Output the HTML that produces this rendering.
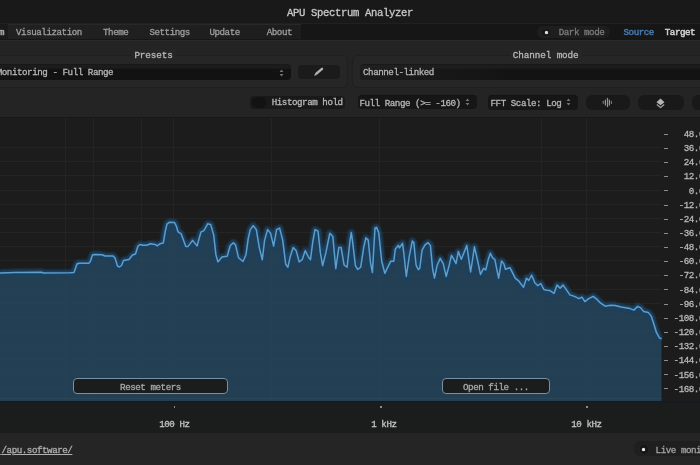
<!DOCTYPE html>
<html><head><meta charset="utf-8"><style>
*{margin:0;padding:0;box-sizing:border-box}
html,body{width:700px;height:465px;overflow:hidden;background:#1c1c1c}
body{position:relative;-webkit-text-stroke:0.3px currentColor;font-family:"Liberation Mono","DejaVu Sans Mono",monospace;font-size:9.2px;letter-spacing:-0.45px;color:#b6b6b6}
.a{position:absolute;white-space:nowrap}
.t{position:absolute;white-space:nowrap;line-height:10px;letter-spacing:-0.45px}
#title{left:0;top:0;width:700px;height:23px;background:#191919}
#menu{left:0;top:23px;width:700px;height:17px;background:#161616;border-top:1px solid #202020}
#panel{left:0;top:40px;width:700px;height:77px;background:#242424;border-top:1px solid #2a2a2a}
.fs{position:absolute;border:1px solid #1f1f1f;border-radius:5px;background:#262626}
.lg{position:absolute;font-size:9.3px;line-height:11px;color:#b8b8b8;letter-spacing:-0.1px}
.sel{position:absolute;background:linear-gradient(#1c1c1c 0,#1c1c1c 3px,#121212 4.5px);border-top:1px solid #181818;border-radius:4px}
.btn{position:absolute;background:#1b1b1b;border-radius:4px}
#chart{left:0;top:117px;width:700px;height:283px;background:#1c1c1c;border-top:1px solid #181818}
#xaxis{left:0;top:401px;width:700px;height:32px;background:#1b1c1c;border-top:2px solid #161b20}
#footer{left:0;top:433px;width:700px;height:32px;background:#252525}
.yt{position:absolute;left:664px;width:4px;height:1px;background:#8c8c8c}
.yl{position:absolute;right:-4px;width:40px;text-align:right;line-height:10px;color:#b8b8b8;padding-top:0.8px}
.xl{position:absolute;top:419px;line-height:11px;color:#c4c4c4}
.xt{position:absolute;top:405.5px;width:1.2px;height:2px;background:#8c8c8c}
.ov{position:absolute;height:16.6px;border:1px solid #7890a2;border-radius:4px;background:#1a1c1e;text-align:center;line-height:16px;padding-top:1.2px;color:#a8a8a8}
</style></head><body>
<div class="a" id="title"><div class="t" style="left:287px;top:6.5px;font-size:10.6px;line-height:12px;letter-spacing:-0.36px;color:#c8c8c8">APU Spectrum Analyzer</div></div>
<div class="a" id="menu">
  <div class="a" style="left:8px;top:0;width:293px;height:15px;background:linear-gradient(90deg,#212121 0,#1f1f1f 60%,#1d1d1d 100%);border-top:1px solid #282828"></div>
  <div class="a" style="left:0;top:0;width:8px;height:15px;background:#1a1a1a"></div>
  <div class="t" style="left:-1px;top:4px;color:#bbb">m</div>
  <div class="t" style="left:16px;top:4px;color:#9e9e9e">Visualization</div>
  <div class="t" style="left:103px;top:4px;color:#9e9e9e">Theme</div>
  <div class="t" style="left:149.4px;top:4px;color:#9e9e9e">Settings</div>
  <div class="t" style="left:209.4px;top:4px;color:#9e9e9e">Update</div>
  <div class="t" style="left:266.7px;top:4px;color:#9e9e9e">About</div>
  <div class="a" style="left:537px;top:2px;width:73px;height:12px;background:#1e1e1e;border-radius:6px"></div>
  <div class="a" style="left:541px;top:3.5px;width:10px;height:9.5px;border-radius:50%;background:#141414;border:1px solid #232323"></div>
  <div class="a" style="left:544.6px;top:6.6px;width:3px;height:3px;border-radius:50%;background:#e0e0e0;box-shadow:0 0 1px #fff"></div>
  <div class="t" style="left:558.7px;top:4px;color:#7c7c7c">Dark mode</div>
  <div class="t" style="left:623.5px;top:4px;color:#4679ad;-webkit-text-stroke:0.45px #4679ad">Source</div>
  <div class="t" style="left:664.8px;top:4px;color:#d0d0d0;-webkit-text-stroke:0.5px #d0d0d0">Target</div>
</div>
<div class="a" id="panel">
  <div class="fs" style="left:-40px;top:13.5px;width:387.5px;height:33px"></div>
  <div class="lg" style="left:131.4px;top:9px;padding:0 3px;background:#262626">Presets</div>
  <div class="sel" style="left:-10px;top:23.2px;width:301px;height:15.6px"></div>
  <div class="t" style="left:-3.3px;top:26.6px">Monitoring - Full Range</div>
  <svg class="a" style="left:279px;top:28px" width="5" height="8" viewBox="0 0 5 8"><path d="M2.5 0.6 L4.4 3 L0.6 3 Z M2.5 7.4 L4.4 5 L0.6 5 Z" fill="#767676"/></svg>
  <div class="btn" style="left:298px;top:24.3px;width:42px;height:14px;background:#1b1b1b"></div>
  <svg class="a" style="left:312px;top:25px" width="13" height="12" viewBox="0 0 13 12"><path d="M4.4 7.6 L10 2.8" stroke="#b4b4b4" stroke-width="2.4" stroke-linecap="round"/><path d="M3 7.5 L4.6 9.1 L2.3 9.9 Z" fill="#b4b4b4"/></svg>
  <div class="fs" style="left:351.5px;top:13.5px;width:400px;height:33px"></div>
  <div class="lg" style="left:509.8px;top:9px;padding:0 3px;background:#262626">Channel mode</div>
  <div class="sel" style="left:360px;top:23.2px;width:400px;height:15.6px;background:linear-gradient(90deg,rgba(34,34,34,0.6) 0,rgba(34,34,34,0) 160px),linear-gradient(#1c1c1c 0,#1c1c1c 3px,#131313 4.5px)"></div>
  <div class="t" style="left:363px;top:26.6px">Channel-linked</div>
  <div class="btn" style="left:250.3px;top:54.6px;width:95px;height:13.4px;background:#191919"></div>
  <div class="a" style="left:252.3px;top:55.7px;width:13.4px;height:11.6px;border-radius:50%;background:#121212"></div>
  <div class="t" style="left:271.7px;top:57.2px;color:#b8b8b8">Histogram hold</div>
  <div class="sel" style="left:357.7px;top:54.1px;width:119.4px;height:14.4px;background:#161616;border-top:1px solid #131313"></div>
  <div class="t" style="left:359.4px;top:58px">Full Range (&gt;= -160)</div>
  <svg class="a" style="left:465px;top:56.8px" width="5" height="8" viewBox="0 0 5 8"><path d="M2.5 0.6 L4.4 3 L0.6 3 Z M2.5 7.4 L4.4 5 L0.6 5 Z" fill="#767676"/></svg>
  <div class="sel" style="left:488.3px;top:54.2px;width:90px;height:14.4px;background:#161616;border-top:1px solid #131313"></div>
  <div class="t" style="left:490.5px;top:58px">FFT Scale: Log</div>
  <svg class="a" style="left:566px;top:56.5px" width="5" height="8" viewBox="0 0 5 8"><path d="M2.5 0.6 L4.4 3 L0.6 3 Z M2.5 7.4 L4.4 5 L0.6 5 Z" fill="#767676"/></svg>
  <div class="btn" style="left:586px;top:54.4px;width:43.5px;height:14.3px;border-radius:6px;background:#191919"></div>
  <div class="btn" style="left:637.5px;top:54.4px;width:46.5px;height:14.3px;border-radius:6px;background:#191919"></div>
  <div class="btn" style="left:691.5px;top:54.4px;width:46px;height:14.3px;border-radius:6px;background:#191919"></div>
  <svg class="a" style="left:602px;top:55.3px" width="12" height="12" viewBox="0 0 12 12"><g stroke="#949494" stroke-width="1.2" stroke-linecap="round"><path d="M1.3 5.3 V7.3" opacity="0.75"/><path d="M3.4 4 V9"/><path d="M5.5 2.4 V10.6"/><path d="M7.4 4 V9"/><path d="M9.4 5.4 V7.4" opacity="0.75"/></g></svg>
  <svg class="a" style="left:655.5px;top:57px" width="10" height="11" viewBox="0 0 10 11"><path d="M4.5 0.4 L8.5 4.2 L4.5 7.2 L0.5 4.2 Z" fill="#b4b4b4"/><path d="M0.8 6.4 L4.5 9.5 L8.2 6.4" stroke="#9c9c9c" stroke-width="1.3" fill="none" stroke-linejoin="round"/></svg>
</div>
<div class="a" id="chart"></div>
<svg class="a" style="left:0;top:0" width="700" height="465" viewBox="0 0 700 465">
  <defs><filter id="gl" x="-5%" y="-20%" width="110%" height="140%"><feGaussianBlur stdDeviation="0.8"/></filter>
  <clipPath id="fc"><path d="M0.0 273.1 L15.5 272.4 L41.3 272.2 L43.9 273.0 L70.0 272.8 L74.0 272.5 L77.0 264.0 L79.0 263.2 L89.0 263.2 L90.5 261.0 L92.5 255.0 L94.5 254.5 L102.0 254.8 L105.0 256.0 L113.0 256.0 L115.0 258.0 L117.5 266.0 L119.5 267.0 L121.5 265.5 L123.5 260.5 L129.0 259.5 L132.5 255.0 L135.5 254.0 L138.0 246.0 L140.0 244.5 L142.9 245.2 L146.7 245.2 L150.5 243.7 L155.0 244.4 L157.2 245.9 L160.2 243.7 L163.3 242.9 L165.5 230.1 L167.0 224.1 L169.3 222.3 L174.5 222.6 L176.3 226.0 L178.0 231.8 L181.0 233.6 L185.8 246.4 L188.1 246.4 L192.6 240.4 L197.1 246.0 L200.9 232.1 L203.9 230.6 L207.7 223.8 L210.7 224.6 L213.7 235.1 L215.9 254.7 L217.9 261.9 L222.0 257.0 L227.2 256.2 L230.2 245.7 L233.3 242.7 L235.5 244.9 L238.5 257.7 L243.0 261.5 L246.0 254.7 L248.3 238.1 L250.3 229.6 L253.3 225.8 L256.3 229.6 L259.3 247.6 L262.3 259.7 L264.6 240.1 L267.6 229.6 L270.6 233.3 L273.6 246.1 L276.6 229.6 L279.6 228.1 L282.7 240.1 L285.7 264.2 L287.9 267.2 L290.2 256.7 L293.2 247.6 L296.2 250.7 L299.2 262.0 L302.2 259.7 L305.2 250.7 L308.3 256.7 L310.5 259.7 L312.8 241.6 L315.0 229.6 L318.0 231.1 L320.3 252.2 L322.6 265.7 L326.0 252.2 L329.8 233.3 L332.8 236.4 L335.8 268.7 L338.8 247.6 L341.1 247.6 L344.1 265.0 L347.1 267.2 L350.1 240.1 L351.3 232.6 L352.4 240.1 L355.4 265.7 L357.7 269.5 L360.7 267.2 L363.7 247.6 L365.9 237.9 L368.2 240.1 L370.5 262.7 L372.4 272.5 L375.0 228.1 L376.5 227.3 L378.7 232.6 L381.7 261.2 L384.8 273.3 L387.8 267.2 L390.8 261.2 L393.8 261.2 L395.3 249.2 L398.3 245.4 L399.5 247.9 L402.5 243.3 L404.0 254.6 L406.3 276.5 L409.3 256.1 L412.3 241.1 L413.8 242.6 L416.1 265.2 L418.3 269.7 L419.8 268.2 L422.1 250.1 L425.1 244.8 L428.1 242.6 L430.4 245.6 L432.7 269.7 L434.5 278.0 L437.2 265.2 L440.2 258.4 L443.2 263.7 L446.2 276.5 L449.2 265.2 L451.5 255.4 L453.7 259.2 L456.0 263.7 L458.3 251.6 L461.3 259.2 L463.5 253.9 L466.8 245.5 L470.6 272.0 L472.2 262.0 L474.4 246.8 L476.8 257.1 L480.5 274.4 L483.6 268.4 L485.8 269.9 L488.1 260.1 L490.3 253.3 L492.6 257.9 L494.8 259.4 L498.6 278.2 L501.6 260.9 L503.9 263.9 L505.4 269.2 L509.9 267.7 L512.2 272.2 L515.2 278.2 L518.9 281.2 L523.5 287.2 L526.5 278.2 L528.7 280.5 L531.7 275.2 L534.8 282.7 L537.8 285.7 L540.8 283.5 L543.8 289.5 L546.8 290.2 L549.5 290.4 L554.0 293.4 L557.0 285.1 L560.1 288.1 L563.1 285.1 L566.8 290.4 L569.8 294.9 L574.4 296.4 L578.9 298.7 L581.9 297.2 L584.9 301.7 L588.7 298.7 L593.2 296.4 L597.0 299.4 L600.7 303.2 L605.2 306.2 L610.5 305.3 L615.1 305.6 L621.1 307.1 L627.1 307.9 L630.1 308.6 L633.9 310.1 L637.7 306.4 L640.7 307.9 L643.7 311.6 L648.2 312.4 L651.2 316.1 L654.2 325.2 L656.5 332.7 L659.5 338.0 L661.5 338.7 L661.5 401 L0 401 Z"/></clipPath></defs>
  <g stroke="#232525" stroke-width="1" fill="none"><line x1="65.5" y1="118" x2="65.5" y2="400"/><line x1="93.5" y1="118" x2="93.5" y2="400"/><line x1="141.5" y1="118" x2="141.5" y2="400"/><line x1="173.5" y1="118" x2="173.5" y2="400"/><line x1="271.5" y1="118" x2="271.5" y2="400"/><line x1="379.5" y1="118" x2="379.5" y2="400"/><line x1="541.5" y1="118" x2="541.5" y2="400"/><line x1="586.5" y1="118" x2="586.5" y2="400"/><line x1="0" y1="147.5" x2="661.5" y2="147.5"/><line x1="0" y1="161.5" x2="661.5" y2="161.5"/><line x1="0" y1="175.5" x2="661.5" y2="175.5"/><line x1="0" y1="190.5" x2="661.5" y2="190.5"/><line x1="0" y1="204.5" x2="661.5" y2="204.5"/><line x1="0" y1="218.5" x2="661.5" y2="218.5"/><line x1="0" y1="232.5" x2="661.5" y2="232.5"/><line x1="0" y1="246.5" x2="661.5" y2="246.5"/><line x1="0" y1="260.5" x2="661.5" y2="260.5"/><line x1="0" y1="275.5" x2="661.5" y2="275.5"/><line x1="0" y1="289.5" x2="661.5" y2="289.5"/><line x1="0" y1="303.5" x2="661.5" y2="303.5"/><line x1="0" y1="317.5" x2="661.5" y2="317.5"/><line x1="0" y1="331.5" x2="661.5" y2="331.5"/><line x1="0" y1="345.5" x2="661.5" y2="345.5"/><line x1="0" y1="359.5" x2="661.5" y2="359.5"/><line x1="0" y1="374.5" x2="661.5" y2="374.5"/><line x1="0" y1="388.5" x2="661.5" y2="388.5"/></g>
  <path d="M0.0 273.1 L15.5 272.4 L41.3 272.2 L43.9 273.0 L70.0 272.8 L74.0 272.5 L77.0 264.0 L79.0 263.2 L89.0 263.2 L90.5 261.0 L92.5 255.0 L94.5 254.5 L102.0 254.8 L105.0 256.0 L113.0 256.0 L115.0 258.0 L117.5 266.0 L119.5 267.0 L121.5 265.5 L123.5 260.5 L129.0 259.5 L132.5 255.0 L135.5 254.0 L138.0 246.0 L140.0 244.5 L142.9 245.2 L146.7 245.2 L150.5 243.7 L155.0 244.4 L157.2 245.9 L160.2 243.7 L163.3 242.9 L165.5 230.1 L167.0 224.1 L169.3 222.3 L174.5 222.6 L176.3 226.0 L178.0 231.8 L181.0 233.6 L185.8 246.4 L188.1 246.4 L192.6 240.4 L197.1 246.0 L200.9 232.1 L203.9 230.6 L207.7 223.8 L210.7 224.6 L213.7 235.1 L215.9 254.7 L217.9 261.9 L222.0 257.0 L227.2 256.2 L230.2 245.7 L233.3 242.7 L235.5 244.9 L238.5 257.7 L243.0 261.5 L246.0 254.7 L248.3 238.1 L250.3 229.6 L253.3 225.8 L256.3 229.6 L259.3 247.6 L262.3 259.7 L264.6 240.1 L267.6 229.6 L270.6 233.3 L273.6 246.1 L276.6 229.6 L279.6 228.1 L282.7 240.1 L285.7 264.2 L287.9 267.2 L290.2 256.7 L293.2 247.6 L296.2 250.7 L299.2 262.0 L302.2 259.7 L305.2 250.7 L308.3 256.7 L310.5 259.7 L312.8 241.6 L315.0 229.6 L318.0 231.1 L320.3 252.2 L322.6 265.7 L326.0 252.2 L329.8 233.3 L332.8 236.4 L335.8 268.7 L338.8 247.6 L341.1 247.6 L344.1 265.0 L347.1 267.2 L350.1 240.1 L351.3 232.6 L352.4 240.1 L355.4 265.7 L357.7 269.5 L360.7 267.2 L363.7 247.6 L365.9 237.9 L368.2 240.1 L370.5 262.7 L372.4 272.5 L375.0 228.1 L376.5 227.3 L378.7 232.6 L381.7 261.2 L384.8 273.3 L387.8 267.2 L390.8 261.2 L393.8 261.2 L395.3 249.2 L398.3 245.4 L399.5 247.9 L402.5 243.3 L404.0 254.6 L406.3 276.5 L409.3 256.1 L412.3 241.1 L413.8 242.6 L416.1 265.2 L418.3 269.7 L419.8 268.2 L422.1 250.1 L425.1 244.8 L428.1 242.6 L430.4 245.6 L432.7 269.7 L434.5 278.0 L437.2 265.2 L440.2 258.4 L443.2 263.7 L446.2 276.5 L449.2 265.2 L451.5 255.4 L453.7 259.2 L456.0 263.7 L458.3 251.6 L461.3 259.2 L463.5 253.9 L466.8 245.5 L470.6 272.0 L472.2 262.0 L474.4 246.8 L476.8 257.1 L480.5 274.4 L483.6 268.4 L485.8 269.9 L488.1 260.1 L490.3 253.3 L492.6 257.9 L494.8 259.4 L498.6 278.2 L501.6 260.9 L503.9 263.9 L505.4 269.2 L509.9 267.7 L512.2 272.2 L515.2 278.2 L518.9 281.2 L523.5 287.2 L526.5 278.2 L528.7 280.5 L531.7 275.2 L534.8 282.7 L537.8 285.7 L540.8 283.5 L543.8 289.5 L546.8 290.2 L549.5 290.4 L554.0 293.4 L557.0 285.1 L560.1 288.1 L563.1 285.1 L566.8 290.4 L569.8 294.9 L574.4 296.4 L578.9 298.7 L581.9 297.2 L584.9 301.7 L588.7 298.7 L593.2 296.4 L597.0 299.4 L600.7 303.2 L605.2 306.2 L610.5 305.3 L615.1 305.6 L621.1 307.1 L627.1 307.9 L630.1 308.6 L633.9 310.1 L637.7 306.4 L640.7 307.9 L643.7 311.6 L648.2 312.4 L651.2 316.1 L654.2 325.2 L656.5 332.7 L659.5 338.0 L661.5 338.7 L661.5 401 L0 401 Z" fill="#233f54" stroke="none"/>
  <g stroke="#244157" stroke-width="1" fill="none" clip-path="url(#fc)"><line x1="65.5" y1="118" x2="65.5" y2="400"/><line x1="93.5" y1="118" x2="93.5" y2="400"/><line x1="141.5" y1="118" x2="141.5" y2="400"/><line x1="173.5" y1="118" x2="173.5" y2="400"/><line x1="271.5" y1="118" x2="271.5" y2="400"/><line x1="379.5" y1="118" x2="379.5" y2="400"/><line x1="541.5" y1="118" x2="541.5" y2="400"/><line x1="586.5" y1="118" x2="586.5" y2="400"/><line x1="0" y1="147.5" x2="661.5" y2="147.5"/><line x1="0" y1="161.5" x2="661.5" y2="161.5"/><line x1="0" y1="175.5" x2="661.5" y2="175.5"/><line x1="0" y1="190.5" x2="661.5" y2="190.5"/><line x1="0" y1="204.5" x2="661.5" y2="204.5"/><line x1="0" y1="218.5" x2="661.5" y2="218.5"/><line x1="0" y1="232.5" x2="661.5" y2="232.5"/><line x1="0" y1="246.5" x2="661.5" y2="246.5"/><line x1="0" y1="260.5" x2="661.5" y2="260.5"/><line x1="0" y1="275.5" x2="661.5" y2="275.5"/><line x1="0" y1="289.5" x2="661.5" y2="289.5"/><line x1="0" y1="303.5" x2="661.5" y2="303.5"/><line x1="0" y1="317.5" x2="661.5" y2="317.5"/><line x1="0" y1="331.5" x2="661.5" y2="331.5"/><line x1="0" y1="345.5" x2="661.5" y2="345.5"/><line x1="0" y1="359.5" x2="661.5" y2="359.5"/><line x1="0" y1="374.5" x2="661.5" y2="374.5"/><line x1="0" y1="388.5" x2="661.5" y2="388.5"/></g>
  <line x1="0" y1="398.5" x2="661.5" y2="398.5" stroke="#2a4658" stroke-width="1"/>
  <path d="M0.0 273.1 L15.5 272.4 L41.3 272.2 L43.9 273.0 L70.0 272.8 L74.0 272.5 L77.0 264.0 L79.0 263.2 L89.0 263.2 L90.5 261.0 L92.5 255.0 L94.5 254.5 L102.0 254.8 L105.0 256.0 L113.0 256.0 L115.0 258.0 L117.5 266.0 L119.5 267.0 L121.5 265.5 L123.5 260.5 L129.0 259.5 L132.5 255.0 L135.5 254.0 L138.0 246.0 L140.0 244.5 L142.9 245.2 L146.7 245.2 L150.5 243.7 L155.0 244.4 L157.2 245.9 L160.2 243.7 L163.3 242.9 L165.5 230.1 L167.0 224.1 L169.3 222.3 L174.5 222.6 L176.3 226.0 L178.0 231.8 L181.0 233.6 L185.8 246.4 L188.1 246.4 L192.6 240.4 L197.1 246.0 L200.9 232.1 L203.9 230.6 L207.7 223.8 L210.7 224.6 L213.7 235.1 L215.9 254.7 L217.9 261.9 L222.0 257.0 L227.2 256.2 L230.2 245.7 L233.3 242.7 L235.5 244.9 L238.5 257.7 L243.0 261.5 L246.0 254.7 L248.3 238.1 L250.3 229.6 L253.3 225.8 L256.3 229.6 L259.3 247.6 L262.3 259.7 L264.6 240.1 L267.6 229.6 L270.6 233.3 L273.6 246.1 L276.6 229.6 L279.6 228.1 L282.7 240.1 L285.7 264.2 L287.9 267.2 L290.2 256.7 L293.2 247.6 L296.2 250.7 L299.2 262.0 L302.2 259.7 L305.2 250.7 L308.3 256.7 L310.5 259.7 L312.8 241.6 L315.0 229.6 L318.0 231.1 L320.3 252.2 L322.6 265.7 L326.0 252.2 L329.8 233.3 L332.8 236.4 L335.8 268.7 L338.8 247.6 L341.1 247.6 L344.1 265.0 L347.1 267.2 L350.1 240.1 L351.3 232.6 L352.4 240.1 L355.4 265.7 L357.7 269.5 L360.7 267.2 L363.7 247.6 L365.9 237.9 L368.2 240.1 L370.5 262.7 L372.4 272.5 L375.0 228.1 L376.5 227.3 L378.7 232.6 L381.7 261.2 L384.8 273.3 L387.8 267.2 L390.8 261.2 L393.8 261.2 L395.3 249.2 L398.3 245.4 L399.5 247.9 L402.5 243.3 L404.0 254.6 L406.3 276.5 L409.3 256.1 L412.3 241.1 L413.8 242.6 L416.1 265.2 L418.3 269.7 L419.8 268.2 L422.1 250.1 L425.1 244.8 L428.1 242.6 L430.4 245.6 L432.7 269.7 L434.5 278.0 L437.2 265.2 L440.2 258.4 L443.2 263.7 L446.2 276.5 L449.2 265.2 L451.5 255.4 L453.7 259.2 L456.0 263.7 L458.3 251.6 L461.3 259.2 L463.5 253.9 L466.8 245.5 L470.6 272.0 L472.2 262.0 L474.4 246.8 L476.8 257.1 L480.5 274.4 L483.6 268.4 L485.8 269.9 L488.1 260.1 L490.3 253.3 L492.6 257.9 L494.8 259.4 L498.6 278.2 L501.6 260.9 L503.9 263.9 L505.4 269.2 L509.9 267.7 L512.2 272.2 L515.2 278.2 L518.9 281.2 L523.5 287.2 L526.5 278.2 L528.7 280.5 L531.7 275.2 L534.8 282.7 L537.8 285.7 L540.8 283.5 L543.8 289.5 L546.8 290.2 L549.5 290.4 L554.0 293.4 L557.0 285.1 L560.1 288.1 L563.1 285.1 L566.8 290.4 L569.8 294.9 L574.4 296.4 L578.9 298.7 L581.9 297.2 L584.9 301.7 L588.7 298.7 L593.2 296.4 L597.0 299.4 L600.7 303.2 L605.2 306.2 L610.5 305.3 L615.1 305.6 L621.1 307.1 L627.1 307.9 L630.1 308.6 L633.9 310.1 L637.7 306.4 L640.7 307.9 L643.7 311.6 L648.2 312.4 L651.2 316.1 L654.2 325.2 L656.5 332.7 L659.5 338.0 L661.5 338.7" fill="none" stroke="#1c4160" stroke-width="6.5" stroke-linejoin="round" filter="url(#gl)"/>
  <path d="M0.0 273.1 L15.5 272.4 L41.3 272.2 L43.9 273.0 L70.0 272.8 L74.0 272.5 L77.0 264.0 L79.0 263.2 L89.0 263.2 L90.5 261.0 L92.5 255.0 L94.5 254.5 L102.0 254.8 L105.0 256.0 L113.0 256.0 L115.0 258.0 L117.5 266.0 L119.5 267.0 L121.5 265.5 L123.5 260.5 L129.0 259.5 L132.5 255.0 L135.5 254.0 L138.0 246.0 L140.0 244.5 L142.9 245.2 L146.7 245.2 L150.5 243.7 L155.0 244.4 L157.2 245.9 L160.2 243.7 L163.3 242.9 L165.5 230.1 L167.0 224.1 L169.3 222.3 L174.5 222.6 L176.3 226.0 L178.0 231.8 L181.0 233.6 L185.8 246.4 L188.1 246.4 L192.6 240.4 L197.1 246.0 L200.9 232.1 L203.9 230.6 L207.7 223.8 L210.7 224.6 L213.7 235.1 L215.9 254.7 L217.9 261.9 L222.0 257.0 L227.2 256.2 L230.2 245.7 L233.3 242.7 L235.5 244.9 L238.5 257.7 L243.0 261.5 L246.0 254.7 L248.3 238.1 L250.3 229.6 L253.3 225.8 L256.3 229.6 L259.3 247.6 L262.3 259.7 L264.6 240.1 L267.6 229.6 L270.6 233.3 L273.6 246.1 L276.6 229.6 L279.6 228.1 L282.7 240.1 L285.7 264.2 L287.9 267.2 L290.2 256.7 L293.2 247.6 L296.2 250.7 L299.2 262.0 L302.2 259.7 L305.2 250.7 L308.3 256.7 L310.5 259.7 L312.8 241.6 L315.0 229.6 L318.0 231.1 L320.3 252.2 L322.6 265.7 L326.0 252.2 L329.8 233.3 L332.8 236.4 L335.8 268.7 L338.8 247.6 L341.1 247.6 L344.1 265.0 L347.1 267.2 L350.1 240.1 L351.3 232.6 L352.4 240.1 L355.4 265.7 L357.7 269.5 L360.7 267.2 L363.7 247.6 L365.9 237.9 L368.2 240.1 L370.5 262.7 L372.4 272.5 L375.0 228.1 L376.5 227.3 L378.7 232.6 L381.7 261.2 L384.8 273.3 L387.8 267.2 L390.8 261.2 L393.8 261.2 L395.3 249.2 L398.3 245.4 L399.5 247.9 L402.5 243.3 L404.0 254.6 L406.3 276.5 L409.3 256.1 L412.3 241.1 L413.8 242.6 L416.1 265.2 L418.3 269.7 L419.8 268.2 L422.1 250.1 L425.1 244.8 L428.1 242.6 L430.4 245.6 L432.7 269.7 L434.5 278.0 L437.2 265.2 L440.2 258.4 L443.2 263.7 L446.2 276.5 L449.2 265.2 L451.5 255.4 L453.7 259.2 L456.0 263.7 L458.3 251.6 L461.3 259.2 L463.5 253.9 L466.8 245.5 L470.6 272.0 L472.2 262.0 L474.4 246.8 L476.8 257.1 L480.5 274.4 L483.6 268.4 L485.8 269.9 L488.1 260.1 L490.3 253.3 L492.6 257.9 L494.8 259.4 L498.6 278.2 L501.6 260.9 L503.9 263.9 L505.4 269.2 L509.9 267.7 L512.2 272.2 L515.2 278.2 L518.9 281.2 L523.5 287.2 L526.5 278.2 L528.7 280.5 L531.7 275.2 L534.8 282.7 L537.8 285.7 L540.8 283.5 L543.8 289.5 L546.8 290.2 L549.5 290.4 L554.0 293.4 L557.0 285.1 L560.1 288.1 L563.1 285.1 L566.8 290.4 L569.8 294.9 L574.4 296.4 L578.9 298.7 L581.9 297.2 L584.9 301.7 L588.7 298.7 L593.2 296.4 L597.0 299.4 L600.7 303.2 L605.2 306.2 L610.5 305.3 L615.1 305.6 L621.1 307.1 L627.1 307.9 L630.1 308.6 L633.9 310.1 L637.7 306.4 L640.7 307.9 L643.7 311.6 L648.2 312.4 L651.2 316.1 L654.2 325.2 L656.5 332.7 L659.5 338.0 L661.5 338.7" fill="none" stroke="#5c9fcb" stroke-width="1.5" stroke-linejoin="round"/>
</svg>
<div class="yt" style="top:133.7px"></div><div class="yl" style="top:129.2px">48.0</div><div class="yt" style="top:147.9px"></div><div class="yl" style="top:143.4px">36.0</div><div class="yt" style="top:162.0px"></div><div class="yl" style="top:157.5px">24.0</div><div class="yt" style="top:176.2px"></div><div class="yl" style="top:171.7px">12.0</div><div class="yt" style="top:190.3px"></div><div class="yl" style="top:185.8px">0.0</div><div class="yt" style="top:204.5px"></div><div class="yl" style="top:200.0px">-12.0</div><div class="yt" style="top:218.6px"></div><div class="yl" style="top:214.1px">-24.0</div><div class="yt" style="top:232.8px"></div><div class="yl" style="top:228.2px">-36.0</div><div class="yt" style="top:246.9px"></div><div class="yl" style="top:242.4px">-48.0</div><div class="yt" style="top:261.1px"></div><div class="yl" style="top:256.6px">-60.0</div><div class="yt" style="top:275.2px"></div><div class="yl" style="top:270.7px">-72.0</div><div class="yt" style="top:289.4px"></div><div class="yl" style="top:284.9px">-84.0</div><div class="yt" style="top:303.5px"></div><div class="yl" style="top:299.0px">-96.0</div><div class="yt" style="top:317.7px"></div><div class="yl" style="top:313.2px">-108.0</div><div class="yt" style="top:331.8px"></div><div class="yl" style="top:327.3px">-120.0</div><div class="yt" style="top:346.0px"></div><div class="yl" style="top:341.5px">-132.0</div><div class="yt" style="top:360.1px"></div><div class="yl" style="top:355.6px">-144.0</div><div class="yt" style="top:374.2px"></div><div class="yl" style="top:369.8px">-156.0</div><div class="yt" style="top:388.4px"></div><div class="yl" style="top:383.9px">-168.0</div>
<div class="a" id="xaxis"></div>
<div class="xt" style="left:174.2px"></div>
<div class="xt" style="left:380.4px"></div>
<div class="xt" style="left:586.4px"></div>
<div class="xl" style="left:159.2px">100 Hz</div>
<div class="xl" style="left:371.2px">1 kHz</div>
<div class="xl" style="left:571.3px">10 kHz</div>
<div class="ov" style="left:73.4px;top:377.6px;width:154.2px">Reset meters</div>
<div class="ov" style="left:442.3px;top:377.8px;width:107.3px">Open file ...</div>
<div class="a" id="footer">
  <div class="a" style="left:1.5px;top:11.7px;line-height:11px;text-decoration:underline;color:#b0b0b0">/apu.software/</div><div class="a" style="left:0;top:20.6px;width:2px;height:1px;background:#8a8a8a"></div>
  <div class="a" style="left:634px;top:8px;width:80px;height:14.5px;background:#1f1f1f;border-radius:6px"></div>
  <div class="a" style="left:638.5px;top:11px;width:10px;height:10.5px;border-radius:50%;background:#151515;border:1px solid #242424"></div>
  <div class="a" style="left:641.5px;top:14.8px;width:3.2px;height:3.2px;border-radius:50%;background:#eee;box-shadow:0 0 1px #fff"></div>
  <div class="a" style="left:655.6px;top:12px;line-height:11px;color:#a4a4a4">Live monitoring</div>
</div>
</body></html>
